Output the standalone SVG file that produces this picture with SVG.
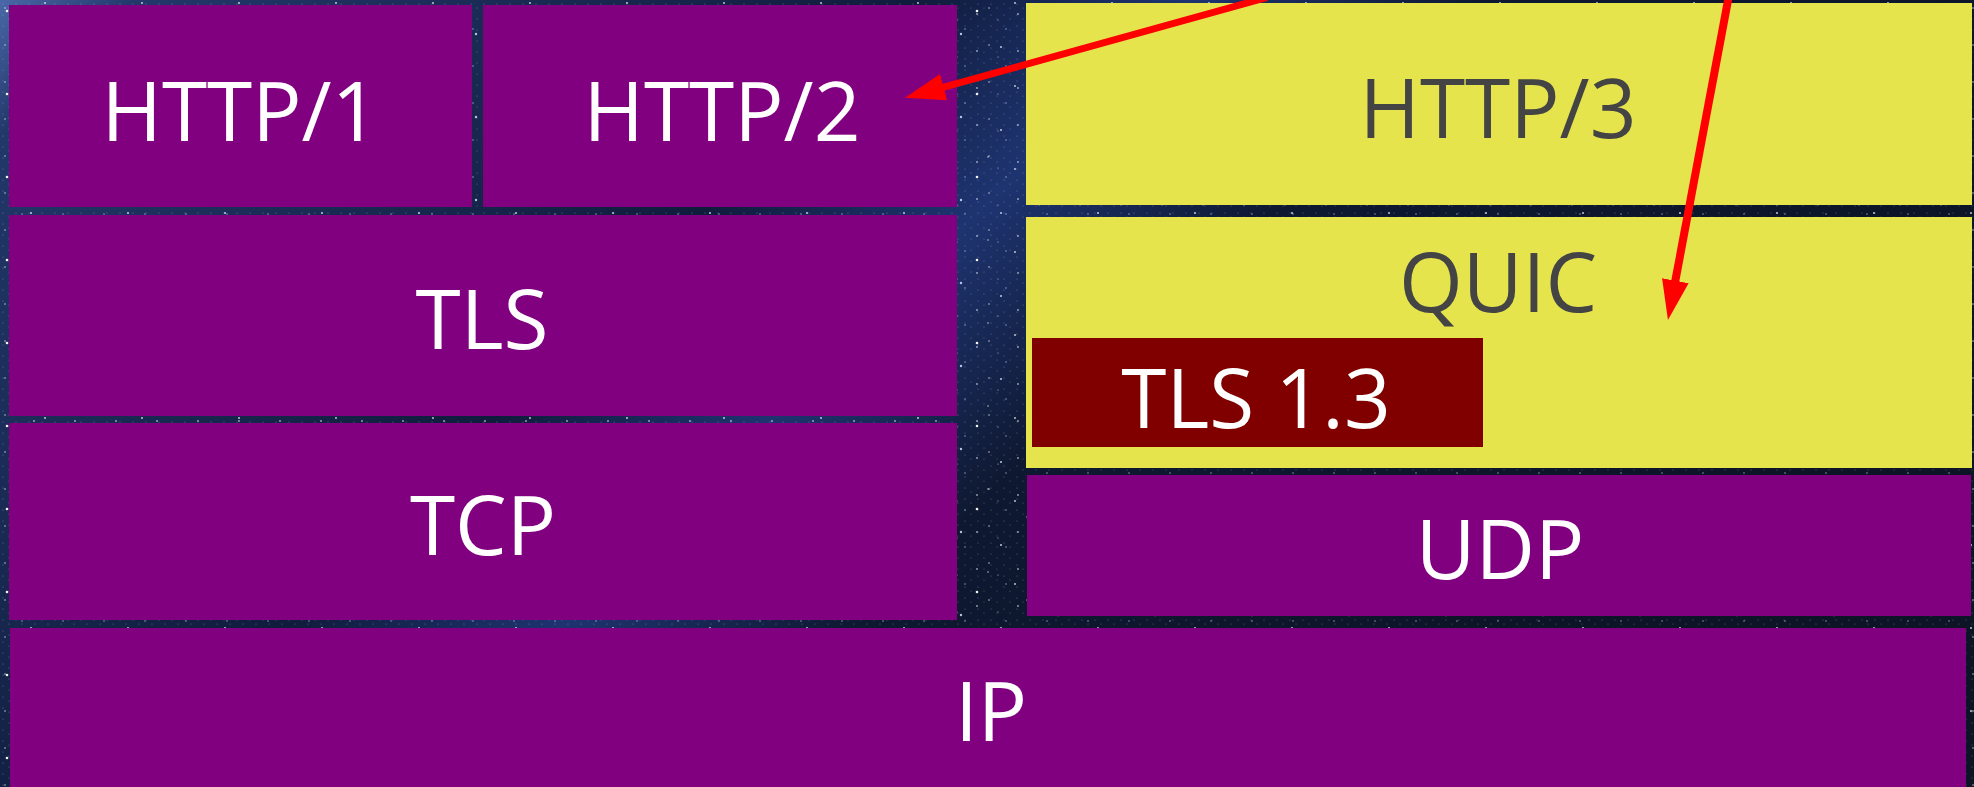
<svg xmlns="http://www.w3.org/2000/svg" width="1974" height="787" viewBox="0 0 1974 787">
  <style>
    .purple { fill: #800080; }
    .yellow { fill: #e6e44c; }
    .maroon { fill: #800000; }
    .label { font-family: "Open Sans", "Noto Sans", "DejaVu Sans", sans-serif; font-size: 82px; text-anchor: middle; }
    .light { fill: #ffffff; }
    .dark { fill: #444444; }
    .arrow { stroke: #ff0000; fill: none; }
  </style>
  <defs>
    <!-- night-sky backdrop -->
    <linearGradient id="sky" x1="0" y1="0" x2="1" y2="0.4">
      <stop offset="0" stop-color="#4a68a8"/>
      <stop offset="0.06" stop-color="#22386a"/>
      <stop offset="0.4" stop-color="#101c3c"/>
      <stop offset="0.52" stop-color="#1e3470"/>
      <stop offset="0.65" stop-color="#0e1830"/>
      <stop offset="1" stop-color="#0c1426"/>
    </linearGradient>
    <pattern id="stars" width="97" height="83" patternUnits="userSpaceOnUse">
      <circle cx="7" cy="11" r="1.3" fill="#ffffff" opacity="0.95"/>
      <circle cx="31" cy="47" r="1" fill="#dfe8ff" opacity="0.85"/>
      <circle cx="58" cy="19" r="1.5" fill="#ffffff" opacity="0.8"/>
      <circle cx="73" cy="66" r="0.9" fill="#ffffff" opacity="0.9"/>
      <circle cx="88" cy="34" r="1.2" fill="#cfe0ff" opacity="0.85"/>
      <circle cx="18" cy="74" r="0.8" fill="#ffffff" opacity="0.7"/>
      <circle cx="45" cy="3" r="0.9" fill="#ffffff" opacity="0.8"/>
      <circle cx="64" cy="52" r="0.7" fill="#ffffff" opacity="0.85"/>
    </pattern>
    <pattern id="stars2" width="41" height="37" patternUnits="userSpaceOnUse">
      <circle cx="5" cy="8" r="0.8" fill="#ffffff" opacity="0.7"/>
      <circle cx="22" cy="29" r="0.7" fill="#bcd0ff" opacity="0.8"/>
      <circle cx="34" cy="14" r="0.9" fill="#ffffff" opacity="0.6"/>
      <circle cx="14" cy="20" r="0.6" fill="#ffffff" opacity="0.7"/>
    </pattern>
    <pattern id="stars3" width="13" height="11" patternUnits="userSpaceOnUse">
      <circle cx="3" cy="4" r="0.6" fill="#9fb8ff" opacity="0.45"/>
      <circle cx="9" cy="8" r="0.5" fill="#ffffff" opacity="0.35"/>
    </pattern>
    <marker id="head" markerUnits="userSpaceOnUse" markerWidth="40" markerHeight="27" refX="10" refY="13.5" orient="auto">
      <path d="M0,0 L40,13.5 L0,27 z" fill="#ff0000"/>
    </marker>
  </defs>

  <!-- background -->
  <rect x="0" y="0" width="1974" height="787" fill="url(#sky)"/>
  <rect x="0" y="0" width="1974" height="787" fill="url(#stars3)"/>
  <rect x="0" y="0" width="1974" height="787" fill="url(#stars)"/>
  <rect x="0" y="0" width="1974" height="787" fill="url(#stars2)"/>

  <!-- TCP stack -->
  <g id="http1">
    <rect class="purple" x="9" y="5" width="463" height="202"/>
    <text class="label light" x="240" y="141">HTTP/1</text>
  </g>
  <g id="http2">
    <rect class="purple" x="483" y="5" width="474" height="202"/>
    <text class="label light" x="722" y="141">HTTP/2</text>
  </g>
  <g id="tls">
    <rect class="purple" x="9" y="215" width="948" height="201"/>
    <text class="label light" x="482" y="349">TLS</text>
  </g>
  <g id="tcp">
    <rect class="purple" x="9" y="423" width="948" height="197"/>
    <text class="label light" x="483" y="555">TCP</text>
  </g>

  <!-- QUIC stack -->
  <g id="http3">
    <rect class="yellow" x="1026" y="3" width="946" height="202"/>
    <text class="label dark" x="1498" y="138">HTTP/3</text>
  </g>
  <g id="quic">
    <rect class="yellow" x="1026" y="217" width="946" height="251"/>
    <text class="label dark" x="1498" y="312">QUIC</text>
  </g>
  <g id="tls13">
    <rect class="maroon" x="1032" y="338" width="451" height="109"/>
    <text class="label light" x="1256" y="428">TLS 1.3</text>
  </g>
  <g id="udp">
    <rect class="purple" x="1027" y="475" width="944" height="141"/>
    <text class="label light" x="1500" y="579">UDP</text>
  </g>

  <!-- shared network layer -->
  <g id="ip">
    <rect class="purple" x="10" y="628" width="1956" height="170"/>
    <text class="label light" x="991" y="741">IP</text>
  </g>

  <!-- connectors -->
  <g id="connectors">
    <line class="arrow" x1="1267" y1="-2.5" x2="934" y2="89.8" stroke-width="7" marker-end="url(#head)"/>
    <line class="arrow" x1="1729" y1="-5" x2="1673.5" y2="290.5" stroke-width="8" marker-end="url(#head)"/>
  </g>
</svg>
